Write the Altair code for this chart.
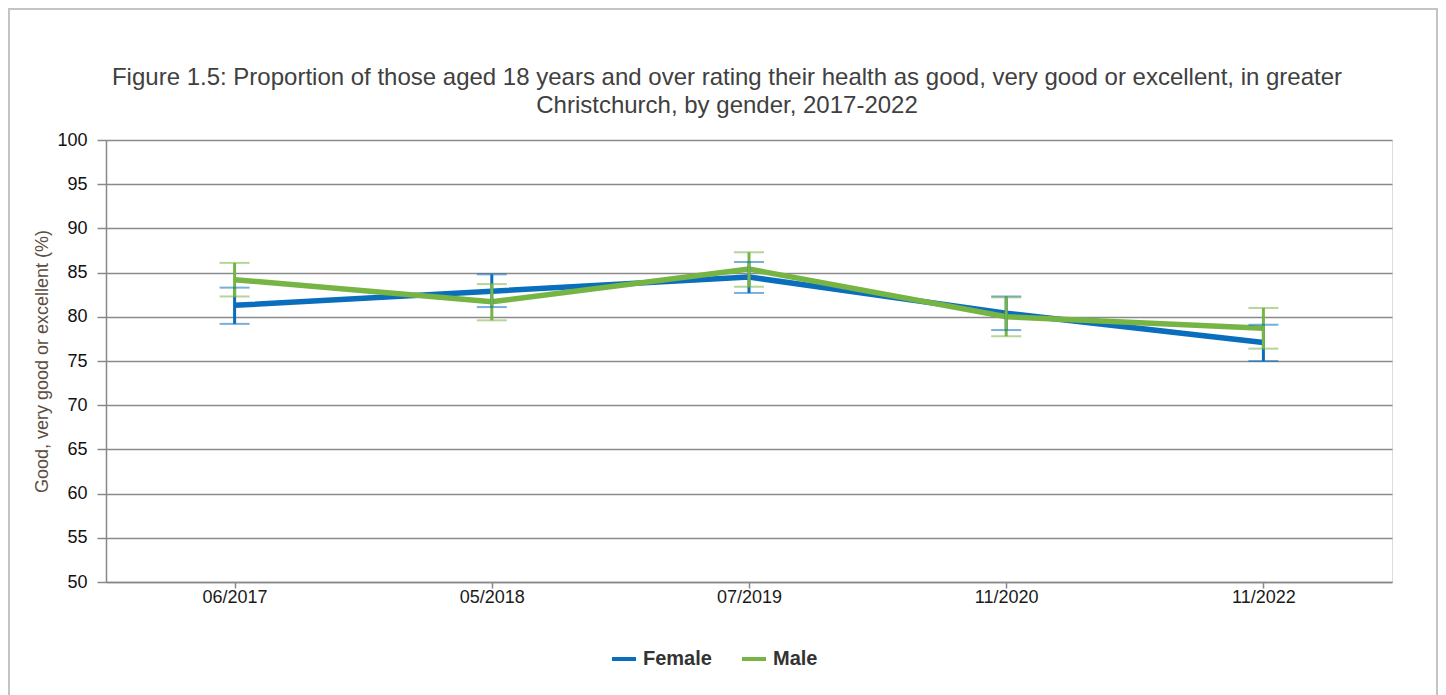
import altair as alt
import pandas as pd

dates = ["06/2017", "05/2018", "07/2019", "11/2020", "11/2022"]
genders = ["Female", "Male"]
female = [81.3, 82.9, 84.5, 80.4, 77.1]
female_lo = [79.2, 81.1, 82.7, 78.5, 75.0]
female_hi = [83.3, 84.8, 86.2, 82.3, 79.1]
male = [84.2, 81.7, 85.4, 80.0, 78.7]
male_lo = [82.3, 79.6, 83.4, 77.8, 76.4]
male_hi = [86.1, 83.7, 87.3, 82.2, 81.0]
y_ticks = list(range(50, 101, 5))

rows = []
for g, v, lo, hi in [("Female", female, female_lo, female_hi), ("Male", male, male_lo, male_hi)]:
    for d, a, b, c in zip(dates, v, lo, hi):
        rows.append({"gender": g, "date": d, "value": a, "lo": b, "hi": c})
df = pd.DataFrame(rows)

BLUE = "#0a6ebd"
GREEN = "#76b443"
FONT = "Liberation Sans"

W, H = 1286, 442

xenc = alt.X(
    "date:N",
    sort=dates,
    scale=alt.Scale(type="point", padding=0.5),
    axis=alt.Axis(
        title=None, labelAngle=0, labelFontSize=18, labelFont=FONT, labelColor="#1a1a1a",
        labelPadding=0, tickSize=6, tickColor="#888888", tickWidth=1.5,
        domainColor="#888888", domainWidth=1.5, grid=False,
    ),
)
cenc = alt.Color(
    "gender:N",
    scale=alt.Scale(domain=genders, range=[BLUE, GREEN]),
    legend=alt.Legend(
        title=None, orient="none", legendX=504, legendY=505, direction="horizontal",
        symbolType="stroke", symbolStrokeWidth=4, symbolSize=576, symbolOpacity=1,
        labelFont=FONT, labelFontSize=20, labelFontWeight="bold", labelColor="#333333",
        columnPadding=22, labelOffset=5,
    ),
)
yscale = alt.Scale(domain=[50, 100], nice=False, zero=False)
yaxis = alt.Axis(
    values=y_ticks, grid=True, gridColor="#8a8a8a", gridWidth=1.5,
    domainColor="#888888", domainWidth=1.5, tickColor="#888888", tickWidth=1.5, tickSize=9,
    labelFontSize=18, labelFont=FONT, labelColor="#111111", labelPadding=10,
    title="Good, very good or excellent (%)", titleFont=FONT, titleFontSize=18,
    titleFontWeight="normal", titleColor="#5b4d42", titlePadding=5,
)

base = alt.Chart(df).encode(x=xenc, color=cenc)

lines = base.mark_line(strokeWidth=5.5).encode(
    y=alt.Y("value:Q", scale=yscale, axis=yaxis)
)
rules = base.mark_rule(strokeWidth=3).encode(y=alt.Y("lo:Q"), y2=alt.Y2("hi:Q"))
caps_lo = base.mark_tick(size=30, thickness=2, opacity=0.55).encode(y=alt.Y("lo:Q"))
caps_hi = base.mark_tick(size=30, thickness=2, opacity=0.55).encode(y=alt.Y("hi:Q"))

frame = alt.Chart(pd.DataFrame({"k": [0]})).mark_rect(
    fillOpacity=0, stroke="#c4c4c4", strokeWidth=2
).encode(x=alt.value(-97), x2=alt.value(1331), y=alt.value(-131), y2=alt.value(700))

title = alt.TitleParams(
    text=[
        "Figure 1.5: Proportion of those aged 18 years and over rating their health as good, very good or excellent, in greater",
        "Christchurch, by gender, 2017-2022",
    ],
    font=FONT, fontSize=24, fontWeight="normal", color="#404040",
    anchor="middle", frame="group", dx=-22, offset=-110, lineHeight=28.5,
)

chart = alt.layer(lines, rules, caps_lo, caps_hi, frame).properties(
    width=W, height=H, title=title,
    autosize=alt.AutoSizeParams(type="none"),
    padding={"left": 98, "top": 132, "right": 46, "bottom": 113},
).configure_view(stroke="transparent").configure(background="white")

chart.save("out.html", embed_options={"renderer": "svg", "actions": False})
